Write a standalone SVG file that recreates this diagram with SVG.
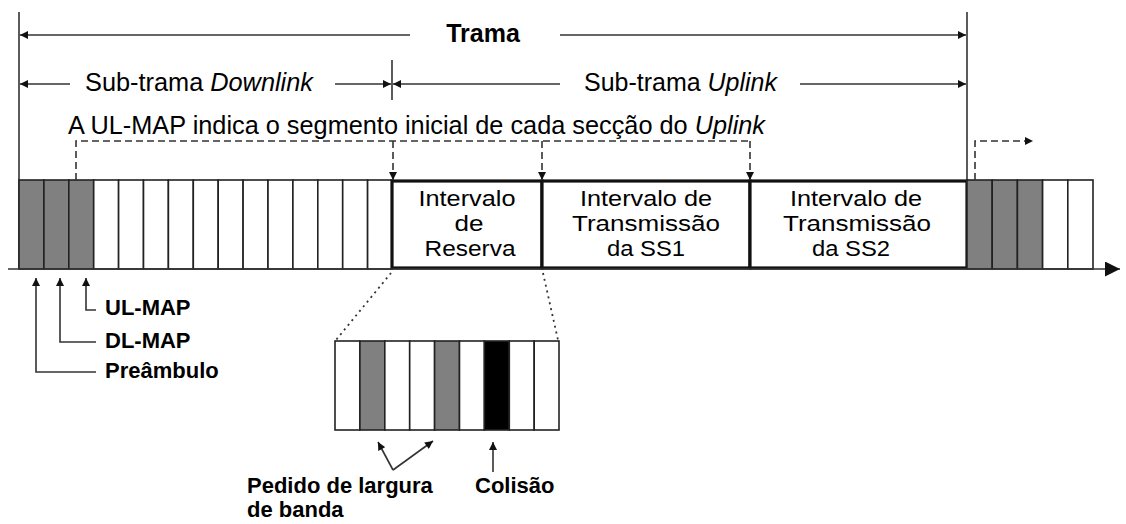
<svg xmlns="http://www.w3.org/2000/svg" width="1126" height="524" viewBox="0 0 1126 524">
<style>
.t{font-family:"Liberation Sans",Arial,sans-serif;fill:#000}
.b{font-weight:bold}
.ln{stroke:#333;stroke-width:1.6;fill:none}
.ds{stroke:#333;stroke-width:1.6;fill:none;stroke-dasharray:7,4}
.dt{stroke:#333;stroke-width:1.8;fill:none;stroke-dasharray:2,4}
.cw{fill:#fff;stroke:#222;stroke-width:1.6}
.cg{fill:#808080;stroke:#222;stroke-width:1.6}
.ck{fill:#000;stroke:#222;stroke-width:1.6}
.tb{fill:#fff;stroke:#111;stroke-width:3.2}
.bx{font-size:22px;text-anchor:middle}
</style>
<defs>
<marker id="a" viewBox="0 0 10 10" refX="10" refY="5" markerWidth="10" markerHeight="8" markerUnits="userSpaceOnUse" orient="auto"><path d="M0,0 L10,5 L0,10 z" fill="#111"/></marker>
<marker id="big" viewBox="0 0 10 10" refX="10" refY="5" markerWidth="20" markerHeight="15" markerUnits="userSpaceOnUse" orient="auto"><path d="M0,0 L10,5 L0,10 z" fill="#111"/></marker>
</defs>

<g id="dimensions">
<line class="ln" x1="19" y1="12" x2="19" y2="269"/>
<line class="ln" x1="967" y1="12" x2="967" y2="269"/>
<line class="ln" x1="410" y1="35" x2="20" y2="35" marker-end="url(#a)"/>
<line class="ln" x1="560" y1="35" x2="966" y2="35" marker-end="url(#a)"/>
<text class="t b" x="483" y="42" font-size="25" text-anchor="middle">Trama</text>
<line class="ln" x1="70" y1="84" x2="20" y2="84" marker-end="url(#a)"/>
<line class="ln" x1="335" y1="84" x2="391" y2="84" marker-end="url(#a)"/>
<line class="ln" x1="392" y1="60" x2="392" y2="100"/>
<line class="ln" x1="560" y1="84" x2="393" y2="84" marker-end="url(#a)"/>
<line class="ln" x1="800" y1="84" x2="966" y2="84" marker-end="url(#a)"/>
<text class="t" x="85" y="91" font-size="25" textLength="228" lengthAdjust="spacingAndGlyphs">Sub-trama <tspan font-style="italic">Downlink</tspan></text>
<text class="t" x="584" y="91" font-size="25" textLength="193" lengthAdjust="spacingAndGlyphs">Sub-trama <tspan font-style="italic">Uplink</tspan></text>
<text class="t" x="68" y="134" font-size="25" textLength="697" lengthAdjust="spacingAndGlyphs">A UL-MAP indica o segmento inicial de cada secção do <tspan font-style="italic">Uplink</tspan></text>
</g>

<g id="downlink">
<rect class="cg" x="19" y="180" width="24.9" height="89"/>
<rect class="cg" x="43.9" y="180" width="24.9" height="89"/>
<rect class="cg" x="68.8" y="180" width="24.9" height="89"/>
<rect class="cw" x="93.7" y="180" width="24.9" height="89"/>
<rect class="cw" x="118.6" y="180" width="24.9" height="89"/>
<rect class="cw" x="143.5" y="180" width="24.9" height="89"/>
<rect class="cw" x="168.4" y="180" width="24.9" height="89"/>
<rect class="cw" x="193.3" y="180" width="24.9" height="89"/>
<rect class="cw" x="218.2" y="180" width="24.9" height="89"/>
<rect class="cw" x="243.1" y="180" width="24.9" height="89"/>
<rect class="cw" x="268" y="180" width="24.9" height="89"/>
<rect class="cw" x="292.9" y="180" width="24.9" height="89"/>
<rect class="cw" x="317.8" y="180" width="24.9" height="89"/>
<rect class="cw" x="342.7" y="180" width="24.9" height="89"/>
<rect class="cw" x="367.6" y="180" width="24.4" height="89"/>
</g>

<g id="reserva">
<rect class="tb" x="392" y="181" width="150" height="87"/>
<text class="t bx" x="467" y="206" textLength="97" lengthAdjust="spacingAndGlyphs">Intervalo</text>
<text class="t bx" x="469" y="231" textLength="29" lengthAdjust="spacingAndGlyphs">de</text>
<text class="t bx" x="470" y="256" textLength="91" lengthAdjust="spacingAndGlyphs">Reserva</text>
</g>
<g id="ss1">
<rect class="tb" x="542" y="181" width="208" height="87"/>
<text class="t bx" x="646" y="206" textLength="132" lengthAdjust="spacingAndGlyphs">Intervalo de</text>
<text class="t bx" x="646" y="231" textLength="148" lengthAdjust="spacingAndGlyphs">Transmissão</text>
<text class="t bx" x="646" y="256" textLength="78" lengthAdjust="spacingAndGlyphs">da SS1</text>
</g>
<g id="ss2">
<rect class="tb" x="750" y="181" width="217" height="87"/>
<text class="t bx" x="856" y="206" textLength="132" lengthAdjust="spacingAndGlyphs">Intervalo de</text>
<text class="t bx" x="857" y="231" textLength="148" lengthAdjust="spacingAndGlyphs">Transmissão</text>
<text class="t bx" x="851" y="256" textLength="78" lengthAdjust="spacingAndGlyphs">da SS2</text>
</g>

<g id="next-frame">
<rect class="cg" x="967" y="180" width="25.2" height="89"/>
<rect class="cg" x="992.2" y="180" width="25.2" height="89"/>
<rect class="cg" x="1017.4" y="180" width="25.2" height="89"/>
<rect class="cw" x="1042.6" y="180" width="25.2" height="89"/>
<rect class="cw" x="1067.8" y="180" width="25.2" height="89"/>
</g>

<g id="zoom-box">
<rect class="cw" x="335" y="341" width="24.9" height="89"/>
<rect class="cg" x="359.9" y="341" width="24.9" height="89"/>
<rect class="cw" x="384.8" y="341" width="24.9" height="89"/>
<rect class="cw" x="409.7" y="341" width="24.9" height="89"/>
<rect class="cg" x="434.6" y="341" width="24.9" height="89"/>
<rect class="cw" x="459.5" y="341" width="24.9" height="89"/>
<rect class="ck" x="484.4" y="341" width="24.9" height="89"/>
<rect class="cw" x="509.3" y="341" width="24.9" height="89"/>
<rect class="cw" x="534.2" y="341" width="24.8" height="89"/>
</g>

<g id="labels">
<text class="t b" x="105" y="315" font-size="22">UL-MAP</text>
<text class="t b" x="105" y="348" font-size="22">DL-MAP</text>
<text class="t b" x="105" y="378" font-size="22">Preâmbulo</text>
<text class="t b" x="247" y="493" font-size="22">Pedido de largura</text>
<text class="t b" x="247" y="517" font-size="22">de banda</text>
<text class="t b" x="475" y="493" font-size="22">Colisão</text>
</g>

<g id="connectors">
<line class="ln" x1="8" y1="269" x2="1120" y2="269" marker-end="url(#big)"/>
<path class="ds" d="M76,180 V141 H750"/>
<path class="ds" d="M393,141 V180" marker-end="url(#a)"/>
<path class="ds" d="M542,141 V180" marker-end="url(#a)"/>
<path class="ds" d="M750,141 V180" marker-end="url(#a)"/>
<path class="ds" d="M975,180 V141 H1033" marker-end="url(#a)"/>
<path class="ln" d="M96,310 H86 V278" marker-end="url(#a)"/>
<path class="ln" d="M96,342 H60 V278" marker-end="url(#a)"/>
<path class="ln" d="M96,372 H36 V278" marker-end="url(#a)"/>
<path class="dt" d="M391,273 L336,340"/>
<path class="dt" d="M543,273 L558,340"/>
<path class="ln" d="M393,470 L378,442" marker-end="url(#a)"/>
<path class="ln" d="M393,470 L433,441" marker-end="url(#a)"/>
<path class="ln" d="M493,472 V442" marker-end="url(#a)"/>
</g>
</svg>
